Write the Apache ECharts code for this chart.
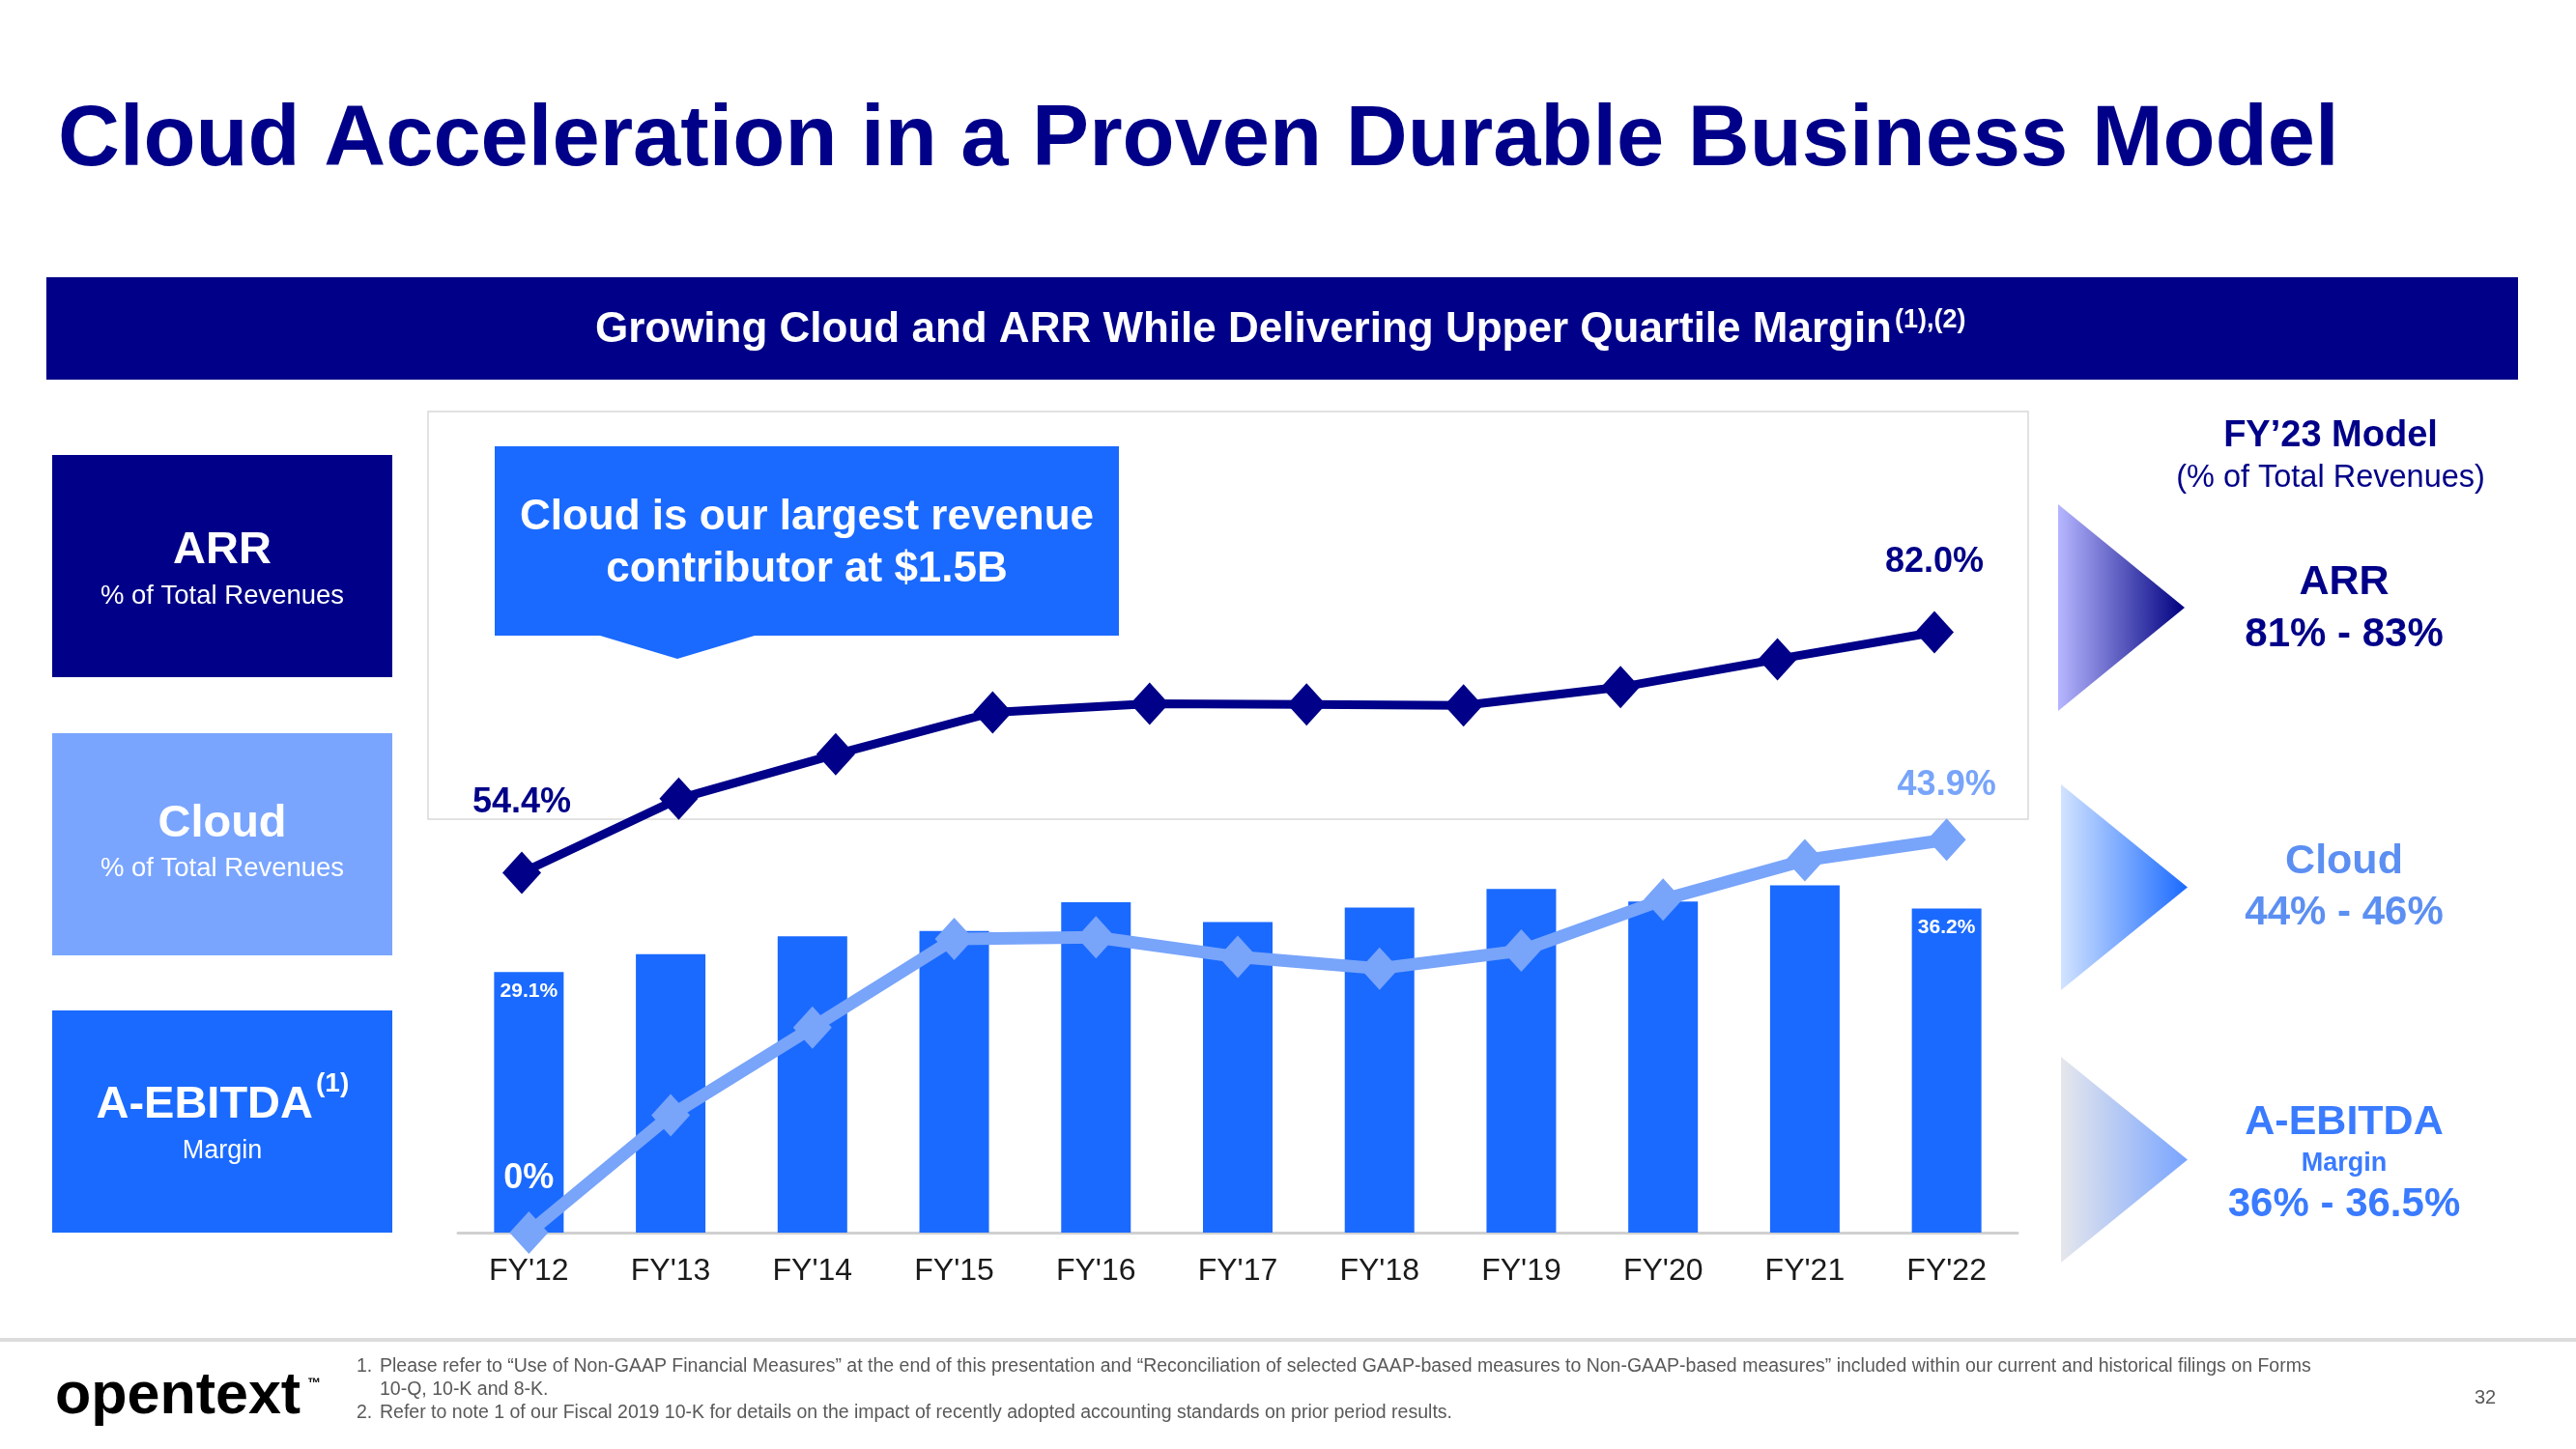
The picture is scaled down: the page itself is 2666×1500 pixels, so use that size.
<!DOCTYPE html>
<html>
<head>
<meta charset="utf-8">
<script src="https://cdn.jsdelivr.net/npm/echarts@6/dist/echarts.min.js"></script>
<style>
html,body{margin:0;padding:0;background:#ffffff;}
#chart{width:2666px;height:1500px;}
</style>
</head>
<body>
<div id="chart"></div>
<script>
// ---------------- data ----------------
const categories = ["FY'12","FY'13","FY'14","FY'15","FY'16","FY'17","FY'18","FY'19","FY'20","FY'21","FY'22"];
// A-EBITDA margin (bars)
const ebitdaMargin = [29.1, 31.1, 33.1, 33.7, 36.9, 34.7, 36.3, 38.4, 37.0, 38.8, 36.2];
// Cloud % of total revenues (light line)
const cloudShare = [0, 13.1, 22.9, 32.8, 33.0, 30.8, 29.5, 31.5, 37.2, 41.6, 43.9];
// ARR % of total revenues (dark line, 10 points drawn on its own axis)
const arrPoints = ["ARR 1","ARR 2","ARR 3","ARR 4","ARR 5","ARR 6","ARR 7","ARR 8","ARR 9","ARR 10"];
const arrShare = [54.4, 62.9, 68.0, 72.8, 73.8, 73.7, 73.6, 75.7, 78.9, 82.0];
// FY'23 model
const modelNames = ["ARR", "Cloud", "A-EBITDA"];
const modelRanges = ["81% - 83%", "44% - 46%", "36% - 36.5%"];

// ---------------- style ----------------
const FONT = "'Liberation Sans', Arial, Helvetica, sans-serif";
const NAVY = '#000088';
const BLUE = '#1a6aff';
const LIGHT = '#78a4fa';

const pct = v => (v === 0 ? '0%' : v.toFixed(1) + '%');
const lastIdx = a => a.length - 1;

function txt(x, y, text, size, weight, color, align, extra) {
  return Object.assign({
    type: 'text', x: x, y: y, silent: true,
    style: {
      text: text, fill: color, align: align || 'center', verticalAlign: 'middle',
      fontSize: size, fontWeight: weight, fontFamily: FONT
    }
  }, extra || {});
}
function tri(x, yTop, yBot, xTip, c0, c1) {
  return {
    type: 'polygon', silent: true,
    shape: { points: [[x, yTop], [xTip, (yTop + yBot) / 2], [x, yBot]] },
    style: { fill: new echarts.graphic.LinearGradient(0, 0, 1, 0, [
      { offset: 0, color: c0 }, { offset: 1, color: c1 }]) }
  };
}

const graphics = [
  // title
  txt(60, 147, 'Cloud Acceleration in a Proven Durable Business Model', 88.5, 'bold', NAVY, 'left'),
  // header band
  { type: 'rect', silent: true, shape: { x: 48, y: 287, width: 2558, height: 106 }, style: { fill: NAVY } },
  txt(1958, 342, 'Growing Cloud and ARR While Delivering Upper Quartile Margin', 44, 'bold', '#ffffff', 'right'),
  txt(1961, 332, '(1),(2)', 27, 'bold', '#ffffff', 'left'),
  // plot area frame
  { type: 'rect', silent: true, shape: { x: 443, y: 426, width: 1656, height: 422 },
    style: { fill: 'none', stroke: '#d9d9d9', lineWidth: 1.5 } },
  // left boxes
  { type: 'rect', silent: true, shape: { x: 54, y: 471, width: 352, height: 230 }, style: { fill: NAVY } },
  txt(230, 570, 'ARR', 47, 'bold', '#ffffff'),
  txt(230, 617, '% of Total Revenues', 27.5, 'normal', '#ffffff'),
  { type: 'rect', silent: true, shape: { x: 54, y: 759, width: 352, height: 230 }, style: { fill: '#79a5ff' } },
  txt(230, 853, 'Cloud', 47, 'bold', '#ffffff'),
  txt(230, 899, '% of Total Revenues', 27.5, 'normal', '#ffffff'),
  { type: 'rect', silent: true, shape: { x: 54, y: 1046, width: 352, height: 230 }, style: { fill: BLUE } },
  txt(324, 1144, 'A-EBITDA', 47, 'bold', '#ffffff', 'right'),
  txt(327, 1122, '(1)', 28, 'bold', '#ffffff', 'left'),
  txt(230, 1192, 'Margin', 27, 'normal', '#ffffff'),
  // callout
  { type: 'polygon', silent: true,
    shape: { points: [[512, 462], [1158, 462], [1158, 658], [781, 658], [701, 682], [621, 658], [512, 658]] },
    style: { fill: BLUE } },
  txt(835, 536, 'Cloud is our largest revenue', 44, 'bold', '#ffffff'),
  txt(835, 590, 'contributor at $1.5B', 44, 'bold', '#ffffff'),
  // right-hand model
  txt(2412, 452, 'FY\u201923 Model', 38, 'bold', NAVY),
  txt(2412, 495, '(% of Total Revenues)', 32.5, 'normal', NAVY),
  tri(2130, 522, 736, 2261, '#b6b6ff', '#000080'),
  tri(2133, 812, 1025, 2264, '#d2e3ff', '#1a6aff'),
  tri(2133, 1094, 1307, 2264, '#e6e7ec', '#78a4ff'),
  txt(2426, 603, modelNames[0], 43, 'bold', NAVY),
  txt(2426, 657, modelRanges[0], 42, 'bold', NAVY),
  txt(2426, 892, modelNames[1], 43, 'bold', '#5c8ff2'),
  txt(2426, 945, modelRanges[1], 42, 'bold', '#5c8ff2'),
  txt(2426, 1162, modelNames[2], 43, 'bold', '#3a7bff'),
  txt(2426, 1205, 'Margin', 27, 'bold', '#3a7bff'),
  txt(2426, 1247, modelRanges[2], 42, 'bold', '#3a7bff'),
  // footer
  { type: 'rect', silent: true, shape: { x: 0, y: 1385, width: 2666, height: 4 }, style: { fill: '#dcdcdc' } },
  txt(57, 1446, 'opentext', 61, 'bold', '#000000', 'left'),
  txt(318, 1432, '\u2122', 14, 'bold', '#000000', 'left'),
  txt(369, 1415, '1.', 19.5, 'normal', '#595959', 'left'),
  txt(393, 1415, 'Please refer to \u201cUse of Non-GAAP Financial Measures\u201d at the end of this presentation and \u201cReconciliation of selected GAAP-based measures to Non-GAAP-based measures\u201d included within our current and historical filings on Forms', 19.5, 'normal', '#595959', 'left'),
  txt(393, 1439, '10-Q, 10-K and 8-K.', 19.5, 'normal', '#595959', 'left'),
  txt(369, 1463, '2.', 19.5, 'normal', '#595959', 'left'),
  txt(393, 1463, 'Refer to note 1 of our Fiscal 2019 10-K for details on the impact of recently adopted accounting standards on prior period results.', 19.5, 'normal', '#595959', 'left'),
  txt(2572, 1447, '32', 20, 'normal', '#595959', 'center')
];

const chart = echarts.init(document.getElementById('chart'), null, { renderer: 'canvas' });
chart.setOption({
  animation: false,
  backgroundColor: '#ffffff',
  textStyle: { fontFamily: FONT },
  grid: [
    { left: 474, top: 720, width: 1614, height: 556, containLabel: false },
    { left: 540, top: 492, width: 1462, height: 902.5, containLabel: false }
  ],
  xAxis: [
    { type: 'category', gridIndex: 0, data: categories, boundaryGap: true,
      axisLine: { show: true, lineStyle: { color: '#d0d0d0', width: 3 } },
      axisTick: { show: false },
      axisLabel: { margin: 24, fontSize: 32, color: '#1a1a1a', fontFamily: FONT } },
    { type: 'category', gridIndex: 1, data: arrPoints, boundaryGap: false, show: false }
  ],
  yAxis: [
    { type: 'value', gridIndex: 0, min: 0, max: 60, show: false, splitLine: { show: false } },
    { type: 'value', gridIndex: 1, min: 0, max: 100, show: false, splitLine: { show: false } }
  ],
  graphic: graphics,
  series: [
    { name: 'A-EBITDA Margin', type: 'bar', xAxisIndex: 0, yAxisIndex: 0, barWidth: 72, z: 2,
      itemStyle: { color: BLUE },
      label: { position: 'insideTop', distance: 9, color: '#ffffff', fontSize: 21, fontWeight: 'bold',
        fontFamily: FONT, formatter: p => pct(p.value) },
      data: ebitdaMargin.map((v, i) => ({ value: v, label: { show: i === 0 || i === lastIdx(ebitdaMargin) } })) },
    { name: 'Cloud', type: 'line', xAxisIndex: 0, yAxisIndex: 0, z: 3,
      symbol: 'diamond', symbolSize: [40, 44],
      lineStyle: { color: LIGHT, width: 13 }, itemStyle: { color: LIGHT },
      label: { position: 'top', distance: 16, fontSize: 36, fontWeight: 'bold', fontFamily: FONT,
        color: LIGHT, formatter: p => pct(p.value) },
      data: cloudShare.map((v, i) => ({ value: v,
        label: { show: i === 0 || i === lastIdx(cloudShare), color: i === 0 ? '#ffffff' : LIGHT } })) },
    { name: 'ARR', type: 'line', xAxisIndex: 1, yAxisIndex: 1, z: 4,
      symbol: 'diamond', symbolSize: [40, 44],
      lineStyle: { color: NAVY, width: 9 }, itemStyle: { color: NAVY },
      label: { position: 'top', distance: 32, fontSize: 36, fontWeight: 'bold', fontFamily: FONT,
        color: NAVY, formatter: p => pct(p.value) },
      data: arrShare.map((v, i) => ({ value: v, label: { show: i === 0 || i === lastIdx(arrShare) } })) }
  ]
});
</script>
</body>
</html>
